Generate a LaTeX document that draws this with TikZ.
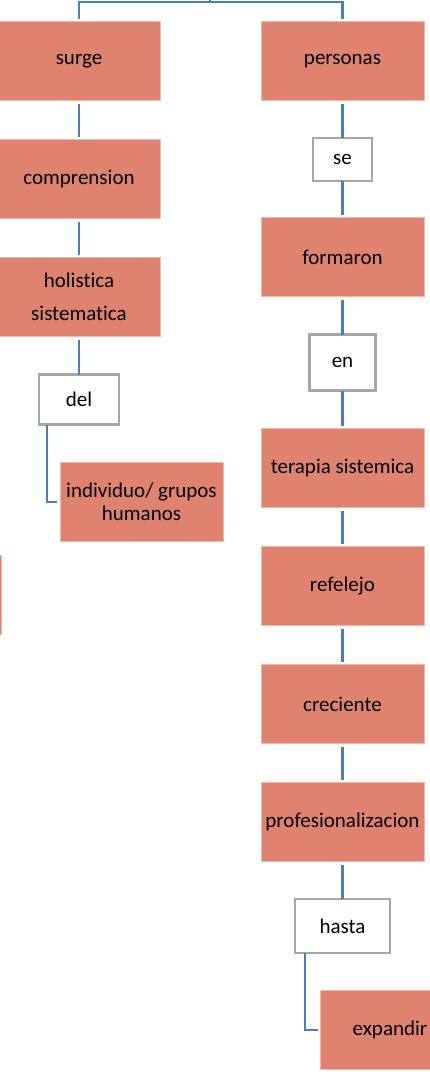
\documentclass[tikz,border=0pt]{standalone}
\usepackage{fontspec}
\setmainfont{Carlito}[Ligatures={NoCommon,NoContextual}]
\usetikzlibrary{positioning}
\definecolor{salmon}{HTML}{DF8370}
\definecolor{salmonedge}{HTML}{F3B8A9}
\definecolor{linkblue}{HTML}{4A7EBB}
\definecolor{boxgray}{HTML}{A6A6A6}

\begin{document}
\begin{tikzpicture}[x=1pt,y=-1pt,
  concept/.style={draw=salmonedge,line width=0.8pt,fill=salmon,minimum width=163pt,minimum height=79pt,inner sep=0pt,outer sep=3pt,align=center,font=\fontsize{21}{25}\selectfont},
  linkword/.style={draw=boxgray,line width=2.5pt,fill=white,inner sep=0pt,outer sep=0pt,font=\fontsize{21}{25}\selectfont},
  link/.style={draw=linkblue,line width=2.4pt}]
 \useasboundingbox (0,0) rectangle (430,1072);
 \node[concept] (surge) at (79,61) {surge};
 \node[concept] (compr) at (79,179) {comprension};
 \node[concept,font=\fontsize{21}{33}\selectfont] (holis) at (79,297) {holistica\\sistematica};
 \node[linkword,minimum width=80pt,minimum height=50pt] (del) at (79,399.5) {del};
 \node[concept,font=\fontsize{21}{23}\selectfont] (indiv) at (141.5,502) {individuo/ grupos\\humanos};
 \node[concept] (cut) at (-80.5,595) {};
 \node[concept] (personas) at (342.5,61) {personas};
 \node[linkword,minimum width=59pt,minimum height=43pt] (se) at (342.5,159.5) {se};
 \node[concept] (formaron) at (342.5,257) {formaron};
 \node[linkword,minimum width=66pt,minimum height=56pt] (en) at (342.5,362.5) {en};
 \node[concept] (terapia) at (342.5,468) {terapia sistemica};
 \node[concept] (refelejo) at (342.5,586) {refelejo};
 \node[concept] (creciente) at (342.5,704) {creciente};
 \node[concept] (prof) at (342.5,822) {profesionalizacion};
 \node[linkword,minimum width=95pt,minimum height=54pt] (hasta) at (342.5,926) {hasta};
 \node[concept] (expandir) at (402,1030) {expandir\hspace*{24pt}};
 \coordinate (top) at (210,-10);
 \coordinate (fork) at (210,2);
 \draw[link] (top) -- (fork);
 \draw[link] (surge) |- (fork) -| (personas);
 \draw[link] (surge) -- (compr);
 \draw[link] (compr) -- (holis);
 \draw[link] (holis) -- (del);
 \draw[link] ([xshift=8pt]del.south west) |- (indiv.west);
 \draw[link] (personas) -- (se);
 \draw[link] (se) -- (formaron);
 \draw[link] (formaron) -- (en);
 \draw[link] (en) -- (terapia);
 \draw[link] (terapia) -- (refelejo);
 \draw[link] (refelejo) -- (creciente);
 \draw[link] (creciente) -- (prof);
 \draw[link] (prof) -- (hasta);
 \draw[link] ([xshift=10pt]hasta.south west) |- (expandir.west);
\end{tikzpicture}
\end{document}
